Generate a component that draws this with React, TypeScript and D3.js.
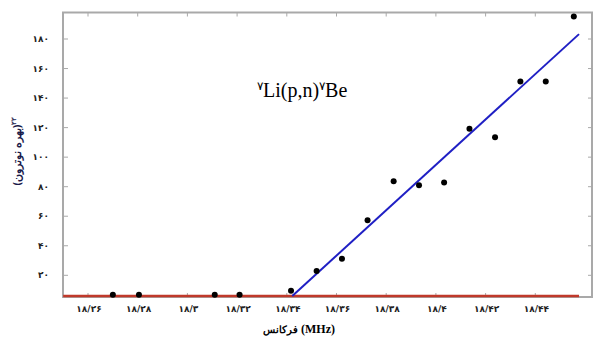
import React from "react";
import * as d3 from "d3";

const freqs = [18.270, 18.2805, 18.311, 18.321, 18.3417, 18.352, 18.3622, 18.3725, 18.383, 18.3932, 18.4033, 18.4135, 18.4238, 18.434, 18.4442, 18.4555];
const yields = [6.8, 6.8, 6.8, 6.8, 9.5, 22.9, 31.2, 57.2, 83.6, 80.9, 82.9, 119.2, 113.4, 151.3, 151.3, 195.3];
const fitX = [18.3422, 18.4576];
const fitY = [6, 183.3];
const baseX = [18.25, 18.4576];
const baseY = [6, 6];
const xTicks = [18.26, 18.28, 18.30, 18.32, 18.34, 18.36, 18.38, 18.40, 18.42, 18.44];
const xTickLabels = ["۱۸/۲۶", "۱۸/۲۸", "۱۸/۳", "۱۸/۳۲", "۱۸/۳۴", "۱۸/۳۶", "۱۸/۳۸", "۱۸/۴", "۱۸/۴۲", "۱۸/۴۴"];
const yTicks = [20, 40, 60, 80, 100, 120, 140, 160, 180];
const yTickLabels = ["۲۰", "۴۰", "۶۰", "۸۰", "۱۰۰", "۱۲۰", "۱۴۰", "۱۶۰", "۱۸۰"];

export default function App() {
  const x = d3.scaleLinear().domain([18.26, 18.44]).range([88, 535.3]);
  const y = d3.scaleLinear().domain([20, 180]).range([275.3, 39]);
  const L = 63, R = 592, T = 12.5, B = 297;
  const line = d3.line<[number, number]>().x((d) => x(d[0])).y((d) => y(d[1]));
  const fit = line(fitX.map((v, i) => [v, fitY[i]] as [number, number]))!;
  const base = line(baseX.map((v, i) => [v, baseY[i]] as [number, number]))!;
  const grey = "#a9a9a9";
  const tickFont = "'DejaVu Sans', 'Noto Sans', sans-serif";
  return (
    <svg width={594} height={338} style={{ position: "absolute", left: 0, top: 0 }}>
      <rect x={0} y={0} width={594} height={338} fill="#fff" />
      <rect x={L} y={T} width={R - L} height={B - T} fill="none" stroke={grey} strokeWidth={2} />
      {xTicks.map((t, i) => (
        <g key={"xt" + i}>
          <line x1={x(t)} x2={x(t)} y1={B} y2={B - 4} stroke={grey} strokeWidth={1} />
          <line x1={x(t)} x2={x(t)} y1={T} y2={T + 4} stroke={grey} strokeWidth={1} />
          <text x={x(t) + 1} y={312} fontSize={9} fontWeight="bold" fontFamily={tickFont} textAnchor="middle" fill="#222">
            {xTickLabels[i]}
          </text>
        </g>
      ))}
      {yTicks.map((t, i) => (
        <g key={"yt" + i}>
          <line x1={L} x2={L + 5} y1={y(t)} y2={y(t)} stroke={grey} strokeWidth={1} />
          <line x1={R} x2={R - 4} y1={y(t)} y2={y(t)} stroke={grey} strokeWidth={1} />
          <text x={49} y={y(t) + 3} fontSize={9} fontWeight="bold" fontFamily={tickFont} textAnchor="end" fill="#222">
            {yTickLabels[i]}
          </text>
        </g>
      ))}
      <path d={base} fill="none" stroke="#c0392b" strokeWidth={2.5} />
      <path d={fit} fill="none" stroke="#1f1fc4" strokeWidth={2} />
      {freqs.map((f, i) => (
        <circle key={"p" + i} cx={x(f)} cy={y(yields[i])} r={3} fill="#000" />
      ))}
      <text x={257} y={97} fontSize={20} fontFamily="'Liberation Serif', serif" fill="#000">
        <tspan fontSize={12} dy={-7}>۷</tspan>
        <tspan dy={7}>Li(p,n)</tspan>
        <tspan fontSize={12} dy={-7}>۷</tspan>
        <tspan dy={7}>Be</tspan>
      </text>
      <text x={299} y={333} fontSize={12} fontWeight="bold" textAnchor="middle" fill="#000">
        <tspan fontFamily="'Noto Sans', sans-serif" fontSize={10}>فرکانس</tspan>
        <tspan fontFamily="'Liberation Serif', serif"> (MHz)</tspan>
      </text>
      <text transform="translate(21,151) rotate(-90)" fontSize={10.5} fontWeight="bold" fontFamily="'Noto Sans', sans-serif" textAnchor="middle" fill="#1a1a4a">
        <tspan>(بهره نوترون)</tspan>
        <tspan fontSize={7} dy={-5}>۲۲</tspan>
      </text>
    </svg>
  );
}
